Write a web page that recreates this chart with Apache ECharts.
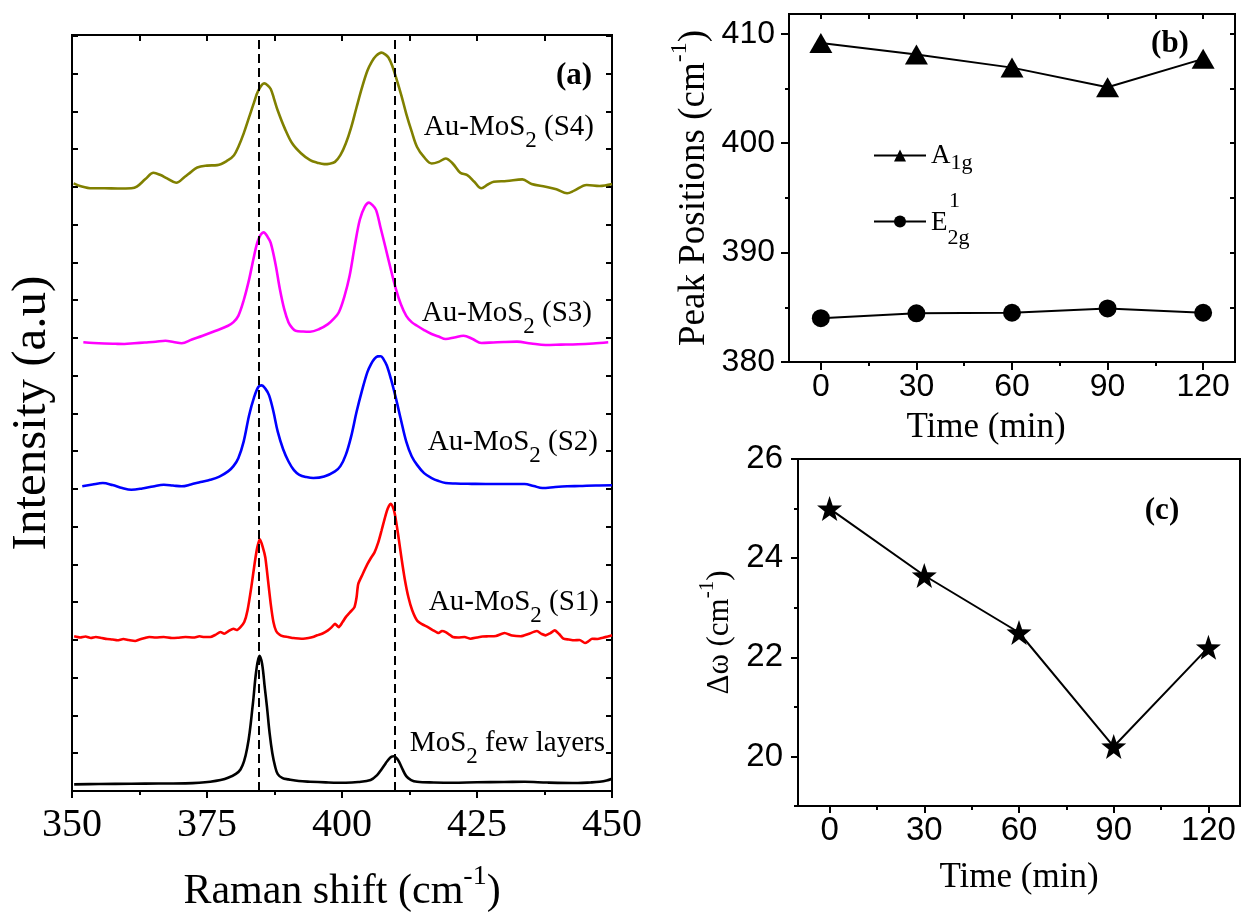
<!DOCTYPE html>
<html>
<head>
<meta charset="utf-8">
<script src="https://cdn.jsdelivr.net/npm/echarts@6/dist/echarts.min.js"></script>
<style>
  html, body { margin: 0; padding: 0; background: #fff; }
  #chart { width: 1242px; height: 918px; }
</style>
</head>
<body>
<div id="chart"></div>
<script>
const SERIF = '"Liberation Serif", "Times New Roman", serif';
const SANS = '"Liberation Sans", Arial, sans-serif';

// Raman spectra: [shift (cm-1), intensity (a.u., stacked offsets)]
const ramanFewLayers = [[350.4,6.7],[355,7],[361,7.3],[366,7.5],[371,7.7],[375.6,9.3],[378.9,13.3],[381.2,21.7],[382.5,45],[383.5,88],[384.1,120],[384.7,136],[385.2,128],[385.7,104],[386.1,85],[386.6,58],[387.1,38],[387.6,25],[388.1,17],[389,13],[390.1,11.7],[392,10],[394.1,9.3],[397,8.7],[400.7,8.3],[403,9],[405.3,11],[406.5,16],[407.3,21.7],[408.1,28],[408.6,31.7],[409.2,34.5],[409.6,35],[410.1,33],[410.6,29],[411.2,22],[411.9,15],[412.8,11],[413.9,9.3],[417,8.6],[420.5,8.3],[425,8.8],[430,9],[433.8,9.3],[438,8.5],[443.7,8],[446,8.6],[447.7,9.3],[449,10.5],[450,12.3]];
const ramanS1 = [[350.4,155.7],[351.5,154.5],[352.5,155.5],[353.5,154],[354.4,155],[355.5,154],[356.5,153],[357.5,152.5],[358.4,151.7],[359.5,153],[360.5,152],[361.7,151],[362.5,152.5],[363.5,154],[364.3,155],[365.5,154.5],[367,155],[368.5,154],[369.6,154.3],[371,155],[372.5,154.5],[373.6,155.7],[374.5,155],[375.6,155],[376.5,157],[377.5,160],[378.2,158.3],[379,161],[379.9,163.3],[380.5,162],[381.2,165],[381.9,170],[382.5,181.7],[383.2,205],[383.8,228.3],[384.3,245],[384.8,253.3],[385.3,246],[385.8,235],[386.3,212],[386.8,188.3],[387.3,170],[387.8,161],[388.4,157.5],[389.1,155.7],[390,155],[391,154],[392,153.5],[392.8,153.3],[393.8,154],[394.6,155],[395.4,156.7],[396.4,158.5],[397.4,161.7],[398.1,165],[398.7,168.3],[399.4,165],[400.1,170],[400.7,175],[401.5,180],[402.3,185],[402.7,195],[403,208.3],[403.8,218],[404.7,228.3],[405.3,234],[406,240],[406.7,250],[407.3,261.7],[407.8,272],[408.3,281.7],[408.7,287],[409,289],[409.4,286],[409.8,278.3],[410.4,258],[411,235],[411.6,214],[412.3,195],[413,182],[413.9,171.7],[414.8,168],[415.9,165],[416.8,162],[417.9,159],[418.5,161],[419.2,160],[420,157],[420.5,155],[421.5,154.5],[422.7,155],[423.8,153.3],[425,154.5],[426,155.5],[427.1,155.7],[428.5,156],[430.1,159],[431.5,156.5],[433.1,155.7],[434.5,158],[436.1,161],[437,158],[437.7,156.7],[438.6,159],[439.4,161.7],[440.2,158],[441,153.3],[442,152.5],[443,151.7],[444,152],[445,149],[445.7,151],[446.3,153.3],[447.3,153],[448.3,154.3],[449.2,155.5],[450,156.7]];
const ramanS2 = [[351.9,306.7],[353.8,308.5],[355.7,310],[357.5,308],[359.3,305],[361,303.3],[363,304.5],[365,306.5],[367,308.3],[368.7,307.5],[370.3,306.7],[372,308.5],[373.8,311],[375.6,313.3],[377.3,316.5],[378.9,321.7],[379.9,327],[380.8,335],[381.8,352],[382.8,378.3],[383.7,396],[384.5,406.7],[385.1,408.3],[385.8,405],[386.5,398.3],[387.3,382],[388.1,361.7],[389.1,344],[390.1,331.7],[391.1,323],[392.1,318.3],[393.4,316],[394.7,315],[396.7,316.5],[398.7,321.7],[399.7,327],[400.7,338.3],[401.7,357],[402.7,381.7],[403.7,403],[404.7,421.7],[405.4,430],[406,435],[406.6,437.5],[407.2,437.7],[407.7,434.5],[408.3,428.3],[409.1,414],[410,395],[410.9,374],[411.9,351.7],[412.9,337],[413.9,328.3],[415.2,320],[416.6,315],[417.9,312],[419.2,310],[421,309.5],[424,309.2],[427.1,309],[430.5,309],[433.8,309],[435.5,307],[437.1,305],[439.5,306],[441.7,306.7],[444,307],[447,307.5],[450,307.7]];
const ramanS3 = [[352.1,451.7],[354,451],[356,450.5],[358,450.2],[359.7,450],[361.5,450.7],[363.5,451.5],[365.5,452.3],[367.3,453.3],[368.8,452],[370.3,450.7],[372.2,454.5],[374.2,458.3],[376.5,463],[378.9,468.3],[379.9,472],[380.8,478.3],[381.8,494],[382.8,515],[383.7,538],[384.5,555],[385.5,562.3],[386.2,558],[386.8,551.7],[387.7,530],[388.5,505],[389.3,485],[390.1,471.7],[390.8,466],[391.4,463.3],[392.8,462.5],[394.1,462.3],[395.8,465],[397.4,470],[398.4,475],[399.4,481.7],[400.4,497],[401.4,518.3],[402.4,550],[403.3,575],[404.2,588],[405,592.3],[405.6,590],[406.3,585],[407.1,568],[408,548.3],[409,526],[410,505],[410.9,490],[411.9,478.3],[412.9,472],[413.9,468.3],[415.2,464],[416.6,460],[417.9,457.5],[419.2,455],[420.8,456.5],[422.5,458.3],[424.2,455],[425.8,451],[428,451.5],[430,452],[432.4,452.3],[435,450.5],[437.7,449],[440.5,449.3],[443.7,449.7],[446.5,450.5],[449.3,451.7]];
const ramanS4 = [[350.3,611.7],[351.8,608.5],[353.7,606.7],[356,606.8],[358.5,606.5],[361,606.7],[362,608.3],[363.6,616],[365.1,622.3],[366.4,620],[367.6,616.7],[369.3,612.3],[370.9,618.3],[372,623],[373.2,627.7],[375,629.5],[376.9,630],[378.9,635],[380,640],[380.8,648.3],[381.8,662],[382.8,678.3],[383.7,693],[384.5,705],[385.6,712.3],[386.2,710.5],[386.8,706.7],[387.4,697],[388.1,685],[389.4,667],[390.8,651.7],[392.4,642],[394.1,635],[395.4,632.5],[396.7,631],[397.7,631.5],[398.7,633.3],[399.7,640],[400.7,651.7],[401.7,668],[402.7,688.3],[403.7,708],[404.7,725],[405.5,734],[406.3,740],[407.3,743.3],[408,741.5],[408.6,738.3],[409.3,730],[410,718.3],[411,700],[411.9,681.7],[412.9,664],[413.9,648.3],[415.2,638],[416.6,631.7],[417.9,633.3],[419.2,636.7],[420.5,631.7],[421.9,622.3],[423.2,620],[424.5,613.3],[425.8,606.7],[427,610.5],[428.1,613.3],[430.5,614],[433.4,615.7],[435.1,611],[437.7,608.3],[439.7,605.7],[441.7,601.7],[443,604.3],[445.3,610],[447.7,609],[450,611]];

// E2g and A1g mode positions of the few-layer reference
const modePositions = [384.6, 409.8];

// Peak positions and their separation against treatment time
const timeMin = [0, 30, 60, 90, 120];
const peakA1g = [409.15, 408.1, 406.9, 405.1, 407.7];
const peakE2g = [384.0, 384.45, 384.5, 384.9, 384.5];
const deltaOmega = [25.0, 23.65, 22.5, 20.2, 22.2];

// Tick values
const timeTicks = [0, 30, 60, 90, 120];
const timeMinorTicks = [15, 45, 75, 105];
const timeAllTicks = [0, 15, 30, 45, 60, 75, 90, 105, 120];
const peakTicks = [380, 390, 400, 410];
const peakMinorTicks = [385, 395, 405];
const peakAllTicks = [380, 385, 390, 395, 400, 405, 410];
const deltaTicks = [20, 22, 24, 26];
const deltaMinorTicks = [19, 21, 23, 25];

const BLACK = '#000';
const axisLineStyle = { show: true, onZero: false, lineStyle: { color: BLACK, width: 2 } };
const noLine = { show: false, onZero: false };

function tickAxis(gridIndex, position, min, max, ticks, len, inside, showLine) {
  return {
    type: 'value', gridIndex, position, min, max,
    axisLine: showLine ? axisLineStyle : noLine,
    axisTick: { show: true, inside, length: len, customValues: ticks, lineStyle: { color: BLACK, width: 2 } },
    axisLabel: { show: false },
    splitLine: { show: false }
  };
}

const supRich = (size, supSize, lh) => ({
  n: { fontFamily: SERIF, fontSize: size, color: BLACK, lineHeight: lh, verticalAlign: 'bottom' },
  s: { fontFamily: SERIF, fontSize: supSize, color: BLACK, lineHeight: lh, verticalAlign: 'top' }
});
const subRich = {
  n: { fontFamily: SERIF, fontSize: 29, color: BLACK, lineHeight: 39, verticalAlign: 'top' },
  s: { fontFamily: SERIF, fontSize: 23, color: BLACK, lineHeight: 39, verticalAlign: 'bottom' }
};

const star = 'path://M0,-10L2.35,-3.24L9.51,-3.09L3.8,1.24L5.88,8.09L0,4L-5.88,8.09L-3.8,1.24L-9.51,-3.09L-2.35,-3.24Z';

const pairs = (xs, ys) => xs.map((x, i) => [x, ys[i]]);

function spectrum(name, data, color, smooth, extra) {
  return Object.assign({
    name, type: 'line', xAxisIndex: 0, yAxisIndex: 0, data,
    showSymbol: false, symbol: 'none', smooth, silent: true,
    lineStyle: { color, width: 2.6 }, itemStyle: { color }, z: 3
  }, extra || {});
}

const panelTag = (text, x, y) => ({
  type: 'text', x, y,
  style: { text, font: 'bold 31px ' + SERIF, fill: BLACK, align: 'center', verticalAlign: 'middle' }
});
const sampleTag = (text, x, y) => ({
  type: 'text', x, y,
  style: { text, rich: subRich, align: 'right', verticalAlign: 'top' }
});

const option = {
  animation: false,
  backgroundColor: '#fff',
  grid: [
    { left: 72, top: 35, width: 540, height: 761, show: true, borderColor: BLACK, borderWidth: 2, backgroundColor: 'transparent' },
    { left: 789, top: 14, width: 446, height: 348, show: true, borderColor: BLACK, borderWidth: 2, backgroundColor: 'transparent' },
    { left: 798, top: 459, width: 442, height: 347, show: true, borderColor: BLACK, borderWidth: 2, backgroundColor: 'transparent' }
  ],
  legend: {
    left: 873, top: 142, padding: 0, orient: 'vertical',
    itemWidth: 52, itemHeight: 15, itemGap: 16,
    selectedMode: false,
    data: ['A1g', 'E2g'],
    formatter: n => n === 'A1g' ? '{a|A}{as|1g}' : '{p|}{u|1}\n{e|E}{es|2g}',
    textStyle: {
      color: BLACK,
      rich: {
        a: { fontFamily: SERIF, fontSize: 27, lineHeight: 38, verticalAlign: 'middle', color: BLACK },
        as: { fontFamily: SERIF, fontSize: 22, lineHeight: 38, verticalAlign: 'bottom', color: BLACK },
        p: { width: 18, lineHeight: 16 },
        u: { fontFamily: SERIF, fontSize: 22, lineHeight: 16, color: BLACK },
        e: { fontFamily: SERIF, fontSize: 27, lineHeight: 40, verticalAlign: 'top', color: BLACK },
        es: { fontFamily: SERIF, fontSize: 22, lineHeight: 40, verticalAlign: 'bottom', color: BLACK }
      }
    }
  },
  xAxis: [
    {
      type: 'value', gridIndex: 0, position: 'bottom', min: 350, max: 450, interval: 25,
      axisLine: axisLineStyle,
      axisTick: { show: true, inside: false, length: 7, lineStyle: { color: BLACK, width: 2 } },
      minorTick: { show: true, splitNumber: 2, length: 4, lineStyle: { color: BLACK, width: 2 } },
      axisLabel: { fontFamily: SERIF, fontSize: 40, color: BLACK, margin: 14 },
      splitLine: { show: false },
      name: '{n|Raman shift (cm}{s|-1}{n|)}',
      nameLocation: 'middle', nameGap: 72,
      nameTextStyle: { rich: supRich(42, 28, 50) }
    },
    {
      type: 'value', gridIndex: 0, position: 'top', min: 350, max: 450, interval: 25,
      axisLine: axisLineStyle,
      axisTick: { show: true, inside: true, length: 6, lineStyle: { color: BLACK, width: 2 } },
      minorTick: { show: true, splitNumber: 2, length: 6, lineStyle: { color: BLACK, width: 2 } },
      axisLabel: { show: false }, splitLine: { show: false }
    },
    {
      type: 'value', gridIndex: 1, position: 'bottom', min: -10, max: 130,
      axisLine: axisLineStyle,
      axisTick: { show: true, length: 8, customValues: timeTicks, lineStyle: { color: BLACK, width: 2 } },
      axisLabel: { customValues: timeTicks, fontFamily: SANS, fontSize: 32, color: BLACK, margin: 9 },
      splitLine: { show: false },
      name: 'Time (min)', nameLocation: 'middle', nameGap: 48,
      nameTextStyle: { fontFamily: SERIF, fontSize: 35, color: BLACK, padding: [0, 52, 0, 0] }
    },
    tickAxis(1, 'bottom', -10, 130, timeMinorTicks, 4, false, false),
    tickAxis(1, 'top', -10, 130, timeAllTicks, 5, true, true),
    {
      type: 'value', gridIndex: 2, position: 'bottom', min: -10, max: 130,
      axisLine: axisLineStyle,
      axisTick: { show: true, length: 7, customValues: timeTicks, lineStyle: { color: BLACK, width: 2 } },
      axisLabel: { customValues: timeTicks, fontFamily: SANS, fontSize: 33, color: BLACK, margin: 8 },
      splitLine: { show: false },
      name: 'Time (min)', nameLocation: 'middle', nameGap: 54,
      nameTextStyle: { fontFamily: SERIF, fontSize: 35, color: BLACK }
    },
    tickAxis(2, 'bottom', -10, 130, timeMinorTicks, 4, false, false)
  ],
  yAxis: [
    {
      type: 'value', gridIndex: 0, position: 'left', min: 0, max: 761, interval: 38,
      axisLine: axisLineStyle,
      axisTick: { show: true, inside: true, length: 6, lineStyle: { color: BLACK, width: 2 } },
      axisLabel: { show: false }, splitLine: { show: false },
      name: 'Intensity (a.u)', nameLocation: 'middle', nameRotate: 90, nameGap: 15,
      nameTextStyle: { fontFamily: SERIF, fontSize: 49, color: BLACK }
    },
    {
      type: 'value', gridIndex: 0, position: 'right', min: 0, max: 761, interval: 38,
      axisLine: axisLineStyle,
      axisTick: { show: true, inside: true, length: 6, lineStyle: { color: BLACK, width: 2 } },
      axisLabel: { show: false }, splitLine: { show: false }
    },
    {
      type: 'value', gridIndex: 1, position: 'left', min: 380, max: 411.8,
      axisLine: axisLineStyle,
      axisTick: { show: true, length: 8, customValues: peakTicks, lineStyle: { color: BLACK, width: 2 } },
      axisLabel: { customValues: peakTicks, fontFamily: SANS, fontSize: 32, color: BLACK, margin: 14 },
      splitLine: { show: false },
      name: '{n|Peak Positions (cm}{s|-1}{n|)}', nameLocation: 'middle', nameRotate: 90, nameGap: 76,
      nameTextStyle: { rich: supRich(37, 24, 45) }
    },
    tickAxis(1, 'left', 380, 411.8, peakMinorTicks, 4, false, false),
    tickAxis(1, 'right', 380, 411.8, peakAllTicks, 5, true, true),
    {
      type: 'value', gridIndex: 2, position: 'left', min: 19, max: 26,
      axisLine: axisLineStyle,
      axisTick: { show: true, length: 7, customValues: deltaTicks, lineStyle: { color: BLACK, width: 2 } },
      axisLabel: { customValues: deltaTicks, fontFamily: SANS, fontSize: 33, color: BLACK, margin: 15 },
      splitLine: { show: false },
      name: '{n|Δω (cm}{s|-1}{n|)}', nameLocation: 'middle', nameRotate: 90, nameGap: 63,
      nameTextStyle: { rich: supRich(31, 21, 38) }
    },
    tickAxis(2, 'left', 19, 26, deltaMinorTicks, 4, false, false)
  ],
  series: [
    spectrum('MoS2 few layers', ramanFewLayers, '#000000', 0.35, {
      markLine: {
        silent: true, symbol: 'none', animation: false,
        label: { show: false },
        lineStyle: { color: BLACK, width: 2, type: [9, 5] },
        data: modePositions.map(v => ({ xAxis: v }))
      }
    }),
    spectrum('Au-MoS2 (S1)', ramanS1, '#ff0000', 0.2),
    spectrum('Au-MoS2 (S2)', ramanS2, '#0000ff', 0.35),
    spectrum('Au-MoS2 (S3)', ramanS3, '#ff00ff', 0.35),
    spectrum('Au-MoS2 (S4)', ramanS4, '#808000', 0.35),
    {
      name: 'A1g', type: 'line', xAxisIndex: 2, yAxisIndex: 2,
      data: pairs(timeMin, peakA1g),
      symbol: 'triangle', symbolSize: [23, 20], showSymbol: true,
      lineStyle: { color: BLACK, width: 2 }, itemStyle: { color: BLACK }
    },
    {
      name: 'E2g', type: 'line', xAxisIndex: 2, yAxisIndex: 2,
      data: pairs(timeMin, peakE2g),
      symbol: 'circle', symbolSize: 18, showSymbol: true,
      lineStyle: { color: BLACK, width: 2 }, itemStyle: { color: BLACK }
    },
    {
      name: 'Δω', type: 'line', xAxisIndex: 5, yAxisIndex: 5,
      data: pairs(timeMin, deltaOmega),
      symbol: star, symbolSize: 25, showSymbol: true,
      lineStyle: { color: BLACK, width: 2 }, itemStyle: { color: BLACK }
    }
  ],
  graphic: [
    panelTag('(a)', 574, 76),
    panelTag('(b)', 1170, 44),
    panelTag('(c)', 1162, 511),
    sampleTag('{n|Au-MoS}{s|2}{n| (S4)}', 594, 113),
    sampleTag('{n|Au-MoS}{s|2}{n| (S3)}', 592, 299),
    sampleTag('{n|Au-MoS}{s|2}{n| (S2)}', 598, 428),
    sampleTag('{n|Au-MoS}{s|2}{n| (S1)}', 599, 588),
    sampleTag('{n|MoS}{s|2}{n| few layers}', 605, 729)
  ]
};

const chart = echarts.init(document.getElementById('chart'), null, { renderer: 'canvas' });
chart.setOption(option);
</script>
</body>
</html>
